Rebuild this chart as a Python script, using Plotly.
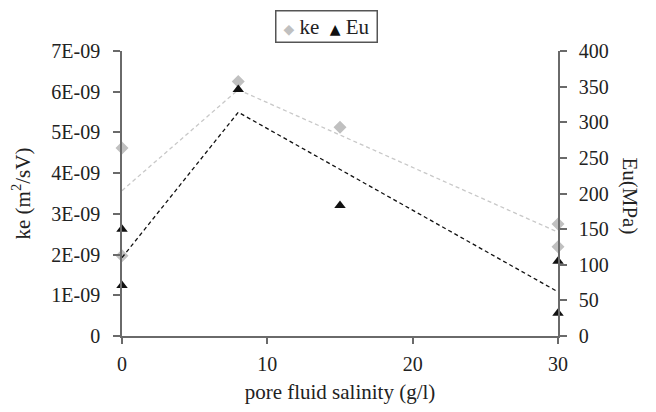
import plotly.graph_objects as go

# ---- data ----
salinity_ke = [0, 0, 8, 15, 30, 30]
ke_values = [4.62e-9, 1.97e-9, 6.25e-9, 5.13e-9, 2.75e-9, 2.19e-9]

salinity_eu = [0, 0, 8, 15, 30, 30]
eu_values = [150, 71, 346, 183, 105, 32]

trend_x = [0, 8, 30]
ke_trend = [3.57e-9, 6.05e-9, 2.55e-9]
eu_trend = [110, 314, 62]

ke_tickvals = [0, 1e-9, 2e-9, 3e-9, 4e-9, 5e-9, 6e-9, 7e-9]
ke_ticktext = ["0", "1E-09", "2E-09", "3E-09", "4E-09", "5E-09", "6E-09", "7E-09"]
eu_tickvals = [0, 50, 100, 150, 200, 250, 300, 350, 400]
x_tickvals = [0, 10, 20, 30]

FONT = "'Liberation Serif', 'Times New Roman', Times, serif"
TXT = "#222222"
AXIS_COL = "#6a6a6a"
KE_COL = "#c0c0c0"
EU_COL = "#111111"

fig = go.Figure()

fig.add_trace(go.Scatter(
    x=trend_x, y=ke_trend, mode="lines", showlegend=False,
    line=dict(color="#c8c8c8", width=1.3, dash="4px,3px"), hoverinfo="skip"))
fig.add_trace(go.Scatter(
    x=trend_x, y=eu_trend, mode="lines", showlegend=False, yaxis="y2",
    line=dict(color=EU_COL, width=1.3, dash="4px,3px"), hoverinfo="skip"))

fig.add_trace(go.Scatter(
    x=salinity_ke, y=ke_values, mode="markers", name="ke", showlegend=False,
    marker=dict(symbol="diamond", size=10, color=KE_COL), cliponaxis=False))
fig.add_trace(go.Scatter(
    x=salinity_eu, y=eu_values, mode="markers", name="Eu", yaxis="y2", showlegend=False,
    marker=dict(symbol="triangle-up", size=10, color=EU_COL), cliponaxis=False))

tickfont = dict(family=FONT, size=20, color=TXT)
titlefont = dict(family=FONT, size=21, color=TXT)

legend_text = (
    f'<span style="color:{KE_COL};font-size:14px;font-family:DejaVu Sans">◆</span>'
    ' ke  '
    f'<span style="color:{EU_COL};font-size:14px;font-family:DejaVu Sans">▲</span>'
    ' Eu'
)

# page body has an 8px margin, so the figure is sized 8px smaller each way
fig.update_layout(
    width=648, height=404,
    margin=dict(l=114, r=98, t=43, b=73),
    paper_bgcolor="white", plot_bgcolor="white",
    font=dict(family=FONT, size=20, color=TXT),
    showlegend=False,
    xaxis=dict(
        range=[0, 30], tickvals=x_tickvals, showgrid=False, zeroline=False,
        showline=True, linecolor=AXIS_COL, linewidth=1.5,
        ticks="outside", ticklen=6, tickcolor=AXIS_COL, tickwidth=1.5,
        tickfont=tickfont, ticklabelstandoff=3,
        title=dict(text="pore fluid salinity (g/l)", font=titlefont, standoff=11),
    ),
    yaxis=dict(
        range=[0, 7e-9], tickvals=ke_tickvals, ticktext=ke_ticktext,
        showgrid=False, zeroline=False,
        showline=True, linecolor=AXIS_COL, linewidth=1.5,
        ticks="outside", ticklen=7, tickcolor=AXIS_COL, tickwidth=1.5,
        tickfont=tickfont, ticklabelstandoff=9,
        title=dict(text="ke (m<sup>2</sup>/sV)", font=titlefont, standoff=16),
    ),
    yaxis2=dict(
        range=[0, 400], tickvals=eu_tickvals, overlaying="y", side="right",
        showgrid=False, zeroline=False,
        showline=True, linecolor=AXIS_COL, linewidth=1.5,
        ticks="outside", ticklen=7, tickcolor=AXIS_COL, tickwidth=1.5,
        tickfont=tickfont, ticklabelstandoff=8,
    ),
    annotations=[
        dict(text="Eu(MPa)", textangle=90, xref="paper", yref="paper",
             x=1.165, y=0.49, xanchor="center", yanchor="middle", showarrow=False,
             font=titlefont),
        dict(text=legend_text, xref="paper", yref="paper",
             x=0.469, y=1.145, xanchor="center", yanchor="top", showarrow=False,
             width=94, height=24, align="center", valign="middle",
             font=dict(family=FONT, size=21, color=TXT),
             bordercolor="#555555", borderwidth=1.5, borderpad=3, bgcolor="white"),
    ],
)

fig.write_html("out.html")
